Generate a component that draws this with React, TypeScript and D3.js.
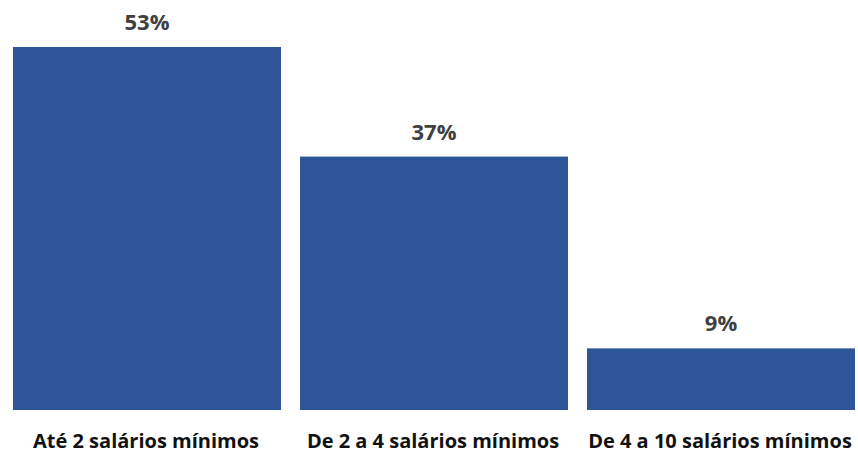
import React from "react";
import * as d3 from "d3";

const categories = ["Até 2 salários mínimos", "De 2 a 4 salários mínimos", "De 4 a 10 salários mínimos"];
const values = [53, 37, 9];
const valueLabels = ["53%", "37%", "9%"];

const W = 858;
const H = 457;

export default function App() {
  const x = d3.scaleBand<string>().domain(categories).range([13, 855]).paddingInner(19 / 287).paddingOuter(0);
  const y = d3.scaleLinear().domain([0, 53]).range([410, 47]);
  return (
    <svg width={W} height={H} style={{ position: "absolute", left: 0, top: 0, background: "#fff" }}>
      <rect x={0} y={0} width={W} height={H} fill="#fff" />
      {categories.map((c, i) => {
        const bx = x(c)!;
        const bw = x.bandwidth();
        const cx = bx + bw / 2;
        return (
          <g key={c}>
            <rect x={bx} y={y(values[i])} width={bw} height={y(0) - y(values[i])} fill="#2E5597" />
            <text x={cx} y={y(values[i]) - 17} textAnchor="middle" fontFamily="'Open Sans', sans-serif" fontWeight={700} fontSize={22} fill="#404040">
              {valueLabels[i]}
            </text>
            <text x={cx - 1} y={448} textAnchor="middle" fontFamily="'Open Sans', sans-serif" fontWeight={700} fontSize={20} fill="#111">
              {c}
            </text>
          </g>
        );
      })}
    </svg>
  );
}
